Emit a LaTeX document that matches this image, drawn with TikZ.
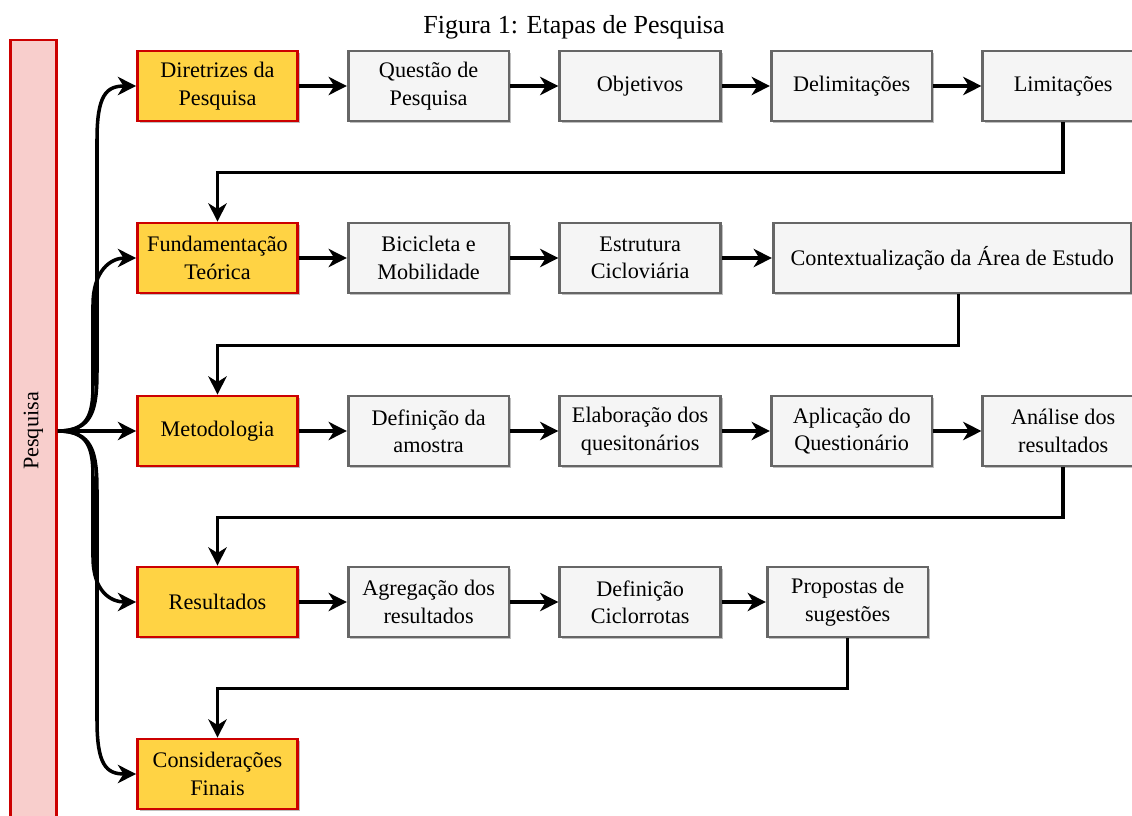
\documentclass[tikz,border=0pt]{standalone}
\usepackage{fontspec}
\setmainfont{Liberation Serif}
\usetikzlibrary{positioning, arrows.meta, shadows}
\definecolor{etapaorange}{RGB}{255,211,68}
\definecolor{etapared}{RGB}{204,0,0}
\definecolor{barpink}{RGB}{248,206,204}
\definecolor{itemgray}{RGB}{245,245,245}
\definecolor{itemborder}{RGB}{102,102,102}

\begin{document}
\begin{tikzpicture}[x=0.025cm, y=-0.025cm, node distance=1.2cm,
  every node/.style = {font=\fontsize{15.8}{19.5}\selectfont, align=center},
  box/.style = {shape=rectangle, line width=1.9pt, minimum height=1.75cm,
    drop shadow={shadow xshift=1.5pt, shadow yshift=-1.5pt, opacity=0.25, fill=black}},
  etapa/.style = {box, draw=etapared, fill=etapaorange, minimum width=4cm},
  item/.style = {box, draw=itemborder, fill=itemgray, minimum width=4.02cm},
  seta/.style = {line width=2.5pt, -{Stealth[length=13pt, width=13pt, inset=4pt]}}]
  \useasboundingbox (0,0) rectangle (1132,816);

  \node[font=\fontsize{18.5}{22}\selectfont] (title) at (574,27) {Figura 1: Etapas de Pesquisa};
  \node[draw=etapared, fill=barpink, line width=1.9pt, minimum width=1.15cm,
    minimum height=19.55cm] (bar) at (33.5,431) {\rotatebox{90}{Pesquisa}};

  % etapas
  \node[etapa] (dir) at (217.5,86) {Diretrizes da\\Pesquisa};
  \node[etapa] (fund) at (217.5,258) {Fundamentação\\Teórica};
  \node[etapa] (met) at (217.5,431) {Metodologia};
  \node[etapa] (res) at (217.5,602) {Resultados};
  \node[etapa] (cons) at (217.5,774) {Considerações\\Finais};

  % diretrizes
  \node[item, right=of dir] (quest) {Questão de\\Pesquisa};
  \node[item, right=of quest] (obj) {Objetivos};
  \node[item, right=of obj] (delim) {Delimitações};
  \node[item, right=of delim] (limit) {Limitações};

  % fundamentacao
  \node[item, right=of fund] (bici) {Bicicleta e\\Mobilidade};
  \node[item, right=of bici] (estr) {Estrutura\\Cicloviária};
  \node[item, right=1.25cm of estr, minimum width=8.95cm] (context) {Contextualização da Área de Estudo};

  % metodologia
  \node[item, right=of met] (amostra) {Definição da\\amostra};
  \node[item, right=of amostra] (elab) {Elaboração dos\\quesitonários};
  \node[item, right=of elab] (aplic) {Aplicação do\\Questionário};
  \node[item, right=of aplic] (anal) {Análise dos\\resultados};

  % resultados
  \node[item, right=of res] (agreg) {Agregação dos\\resultados};
  \node[item, right=of agreg] (cicl) {Definição\\Ciclorrotas};
  \node[item, right=1.1cm of cicl] (prop) {Propostas de\\sugestões};

  % pesquisa -> etapas
  \draw[seta] (bar.east) .. controls +(35,0) and +(0,40) .. (97,370) -- (97,140)
    .. controls +(0,-45) and +(-30,0) .. (dir.west);
  \draw[seta] (bar.east) .. controls +(30,0) and +(0,30) .. (93,385) -- (93,305)
    .. controls +(0,-35) and +(-25,0) .. (fund.west);
  \draw[seta] (bar.east) -- (met.west);
  \draw[seta] (bar.east) .. controls +(30,0) and +(0,-30) .. (93,477) -- (93,557)
    .. controls +(0,35) and +(-25,0) .. (res.west);
  \draw[seta] (bar.east) .. controls +(35,0) and +(0,-40) .. (97,492) -- (97,720)
    .. controls +(0,45) and +(-30,0) .. (cons.west);

  % cadeias
  \draw[seta] (dir) -- (quest);
  \draw[seta] (quest) -- (obj);
  \draw[seta] (obj) -- (delim);
  \draw[seta] (delim) -- (limit);
  \draw[seta] (fund) -- (bici);
  \draw[seta] (bici) -- (estr);
  \draw[seta] (estr) -- (context);
  \draw[seta] (met) -- (amostra);
  \draw[seta] (amostra) -- (elab);
  \draw[seta] (elab) -- (aplic);
  \draw[seta] (aplic) -- (anal);
  \draw[seta] (res) -- (agreg);
  \draw[seta] (agreg) -- (cicl);
  \draw[seta] (cicl) -- (prop);

  % ligacoes entre linhas
  \draw[seta] (limit.south) -- ++(0,50) -| (fund.north);
  \draw[seta] ([xshift=0.15cm]context.south) -- ++(0,51) -| (met.north);
  \draw[seta] (anal.south) -- ++(0,50) -| (res.north);
  \draw[seta] (prop.south) -- ++(0,50) -| (cons.north);
\end{tikzpicture}
\end{document}
